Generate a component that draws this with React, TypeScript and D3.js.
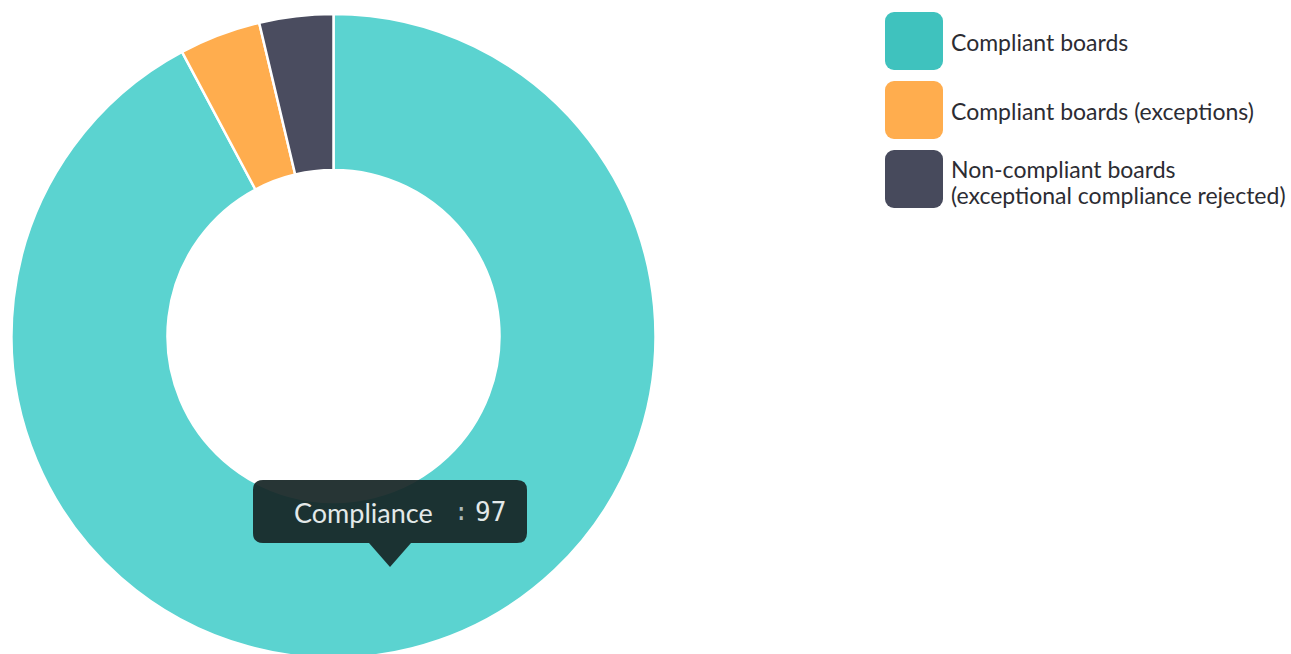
import React from "react";
import * as d3 from "d3";

const categories = [
  "Compliant boards",
  "Compliant boards (exceptions)",
  "Non-compliant boards (exceptional compliance rejected)",
];
const values = [97, 4.3, 3.9];
const sliceColors = ["#5BD3D0", "#FFAD4E", "#4A4C5F"];
const swatchColors = ["#3FC2BE", "#FFAD4E", "#474A5C"];
const legendLines = [
  ["Compliant boards"],
  ["Compliant boards (exceptions)"],
  ["Non-compliant boards", "(exceptional compliance rejected)"],
];
const tooltipLabel = "Compliance";
const tooltipValue = "97";

export default function App() {
  const W = 1291;
  const H = 654;
  const cx = 333.5;
  const cy = 336;
  const outerR = 322;
  const innerR = 166;

  const pie = d3
    .pie<number>()
    .sort(null)
    .value((d) => d);
  const arcs = pie(values);
  const arc = d3.arc<d3.PieArcDatum<number>>().innerRadius(innerR).outerRadius(outerR);

  const font = "Lato, 'Open Sans', sans-serif";

  return (
    <svg
      width={W}
      height={H}
      style={{ position: "absolute", left: 0, top: 0, background: "#fff" }}
    >
      <g transform={`translate(${cx},${cy})`}>
        {arcs.map((a, i) => (
          <path
            key={categories[i]}
            d={arc(a) || ""}
            fill={sliceColors[i]}
            stroke="#fff"
            strokeWidth={2.5}
            strokeLinejoin="round"
          />
        ))}
      </g>

      {/* legend */}
      <g fontFamily={font} fontSize={23} fill="#2c2c33">
        {categories.map((c, i) => {
          const y = 12 + i * 69;
          const lines = legendLines[i];
          const midY = y + 30 + (lines.length > 1 ? 2 : 0);
          return (
            <g key={c}>
              <rect x={885} y={y} width={58} height={58} rx={9} fill={swatchColors[i]} />
              {lines.map((ln, j) => (
                <text
                  key={j}
                  x={951}
                  y={midY + (j - (lines.length - 1) / 2) * 26}
                  dominantBaseline="central"
                >
                  {ln}
                </text>
              ))}
            </g>
          );
        })}
      </g>

      {/* tooltip */}
      <g>
        <path
          d={`M 263,480 H 517 Q 527,480 527,490 V 533 Q 527,543 517,543 H 411 L 390,567 L 369,543 H 263 Q 253,543 253,533 V 490 Q 253,480 263,480 Z`}
          fill="#172626"
          fillOpacity={0.93}
        />
        <text
          x={294}
          y={512}
          fontFamily={font}
          fontSize={27}
          fill="#E3E9E9"
          dominantBaseline="central"
        >
          {tooltipLabel}
        </text>
        <text
          x={454}
          y={512}
          fontFamily="'DejaVu Sans Mono', monospace"
          fontSize={24}
          fill="#AEBABA"
          dominantBaseline="central"
        >
          {":"}
        </text>
        <text
          x={475}
          y={512}
          fontFamily="'DejaVu Sans Mono', monospace"
          fontSize={26}
          fill="#E3E9E9"
          dominantBaseline="central"
        >
          {tooltipValue}
        </text>
      </g>
    </svg>
  );
}
